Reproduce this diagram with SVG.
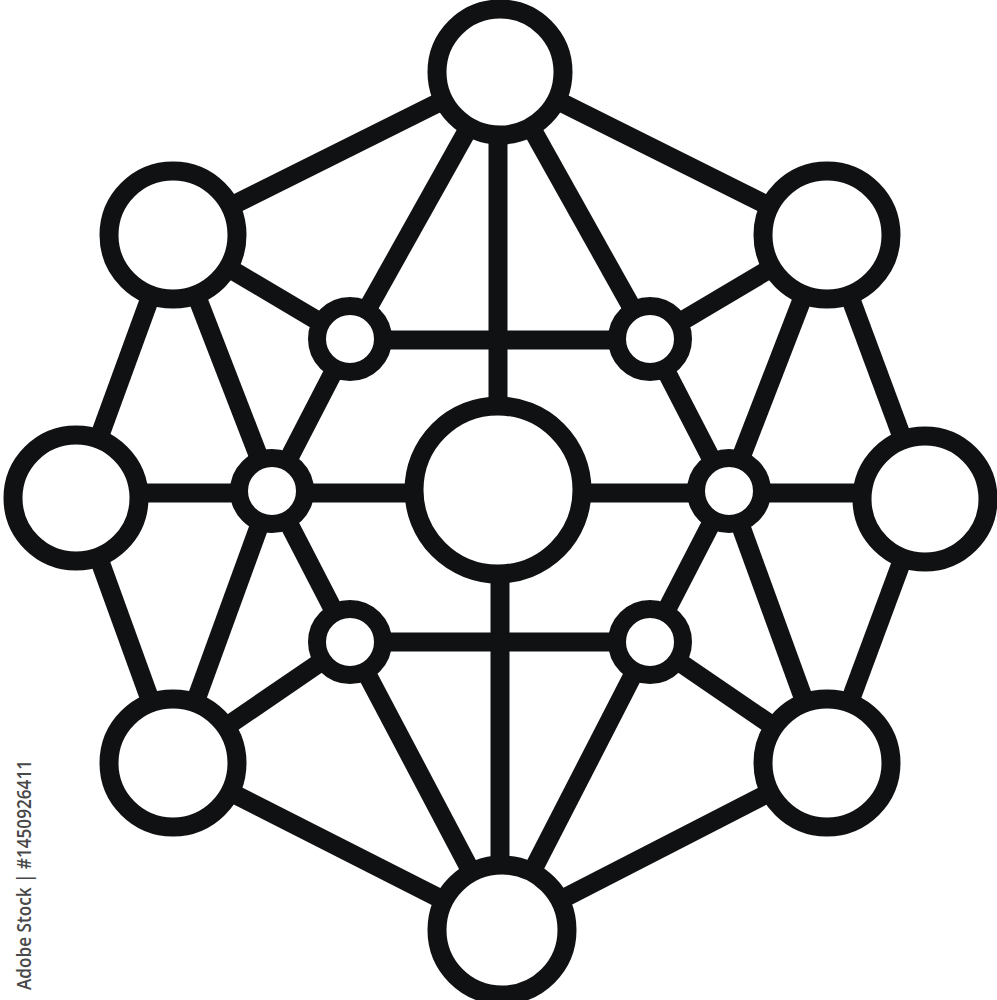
<svg xmlns="http://www.w3.org/2000/svg" width="997" height="1000" viewBox="0 0 997 1000">
<style>
.e{stroke:#0f1113;stroke-width:19;fill:none;stroke-linecap:butt}
.n{stroke:#0f1113;stroke-width:19;fill:#ffffff}
.s{stroke:#0f1113;stroke-width:18;fill:#ffffff}
.wm{font-family:"Open Sans","Liberation Sans",sans-serif;font-size:20px;font-weight:600;fill:#484848}
</style>
<rect width="997" height="1000" fill="#ffffff"/>
<g id="connectors">
<line class="e" x1="500" y1="72" x2="173" y2="235"/>
<line class="e" x1="500" y1="72" x2="827" y2="235"/>
<line class="e" x1="173" y1="235" x2="77" y2="498"/>
<line class="e" x1="827" y1="235" x2="925" y2="499"/>
<line class="e" x1="77" y1="498" x2="173" y2="763"/>
<line class="e" x1="925" y1="499" x2="827" y2="763"/>
<line class="e" x1="173" y1="763" x2="502" y2="930"/>
<line class="e" x1="827" y1="763" x2="502" y2="930"/>
<line class="e" x1="500" y1="72" x2="350" y2="340"/>
<line class="e" x1="500" y1="72" x2="650" y2="340"/>
<line class="e" x1="498" y1="72" x2="498" y2="490"/>
<line class="e" x1="500" y1="490" x2="500" y2="930"/>
<line class="e" x1="173" y1="235" x2="350" y2="340"/>
<line class="e" x1="827" y1="235" x2="650" y2="340"/>
<line class="e" x1="173" y1="235" x2="272" y2="491"/>
<line class="e" x1="827" y1="235" x2="728" y2="491"/>
<line class="e" x1="173" y1="763" x2="272" y2="491"/>
<line class="e" x1="827" y1="763" x2="728" y2="491"/>
<line class="e" x1="173" y1="763" x2="350" y2="642"/>
<line class="e" x1="827" y1="763" x2="650" y2="642"/>
<line class="e" x1="350" y1="340" x2="650" y2="340"/>
<line class="e" x1="350" y1="642" x2="650" y2="642"/>
<line class="e" x1="350" y1="340" x2="272" y2="491"/>
<line class="e" x1="650" y1="340" x2="728" y2="491"/>
<line class="e" x1="350" y1="642" x2="272" y2="491"/>
<line class="e" x1="650" y1="642" x2="728" y2="491"/>
<line class="e" x1="502" y1="930" x2="350" y2="642"/>
<line class="e" x1="502" y1="930" x2="650" y2="642"/>
<line class="e" x1="77" y1="493" x2="925" y2="493"/>
</g>
<g id="node-top"><circle class="n" cx="500" cy="72" r="63"/></g>
<g id="node-upper-left"><circle class="n" cx="173" cy="235" r="64"/></g>
<g id="node-upper-right"><circle class="n" cx="827" cy="235" r="64"/></g>
<g id="node-left"><circle class="n" cx="76" cy="498" r="63"/></g>
<g id="node-right"><circle class="n" cx="925" cy="499" r="63"/></g>
<g id="node-lower-left"><circle class="n" cx="173" cy="763" r="64"/></g>
<g id="node-lower-right"><circle class="n" cx="827" cy="763" r="64"/></g>
<g id="node-bottom"><circle class="n" cx="502" cy="930" r="65"/></g>
<g id="node-center"><circle class="n" cx="498" cy="490" r="84"/></g>
<g id="node-small-ul"><circle class="s" cx="350" cy="339" r="33"/></g>
<g id="node-small-ur"><circle class="s" cx="650" cy="339" r="33"/></g>
<g id="node-small-l"><circle class="s" cx="272" cy="491" r="33"/></g>
<g id="node-small-r"><circle class="s" cx="729" cy="491" r="33"/></g>
<g id="node-small-ll"><circle class="s" cx="350" cy="642" r="33"/></g>
<g id="node-small-lr"><circle class="s" cx="650" cy="642" r="33"/></g>
<text class="wm" transform="translate(31,990) rotate(-90)" textLength="230" lengthAdjust="spacingAndGlyphs">Adobe Stock | #1450926411</text>
</svg>
